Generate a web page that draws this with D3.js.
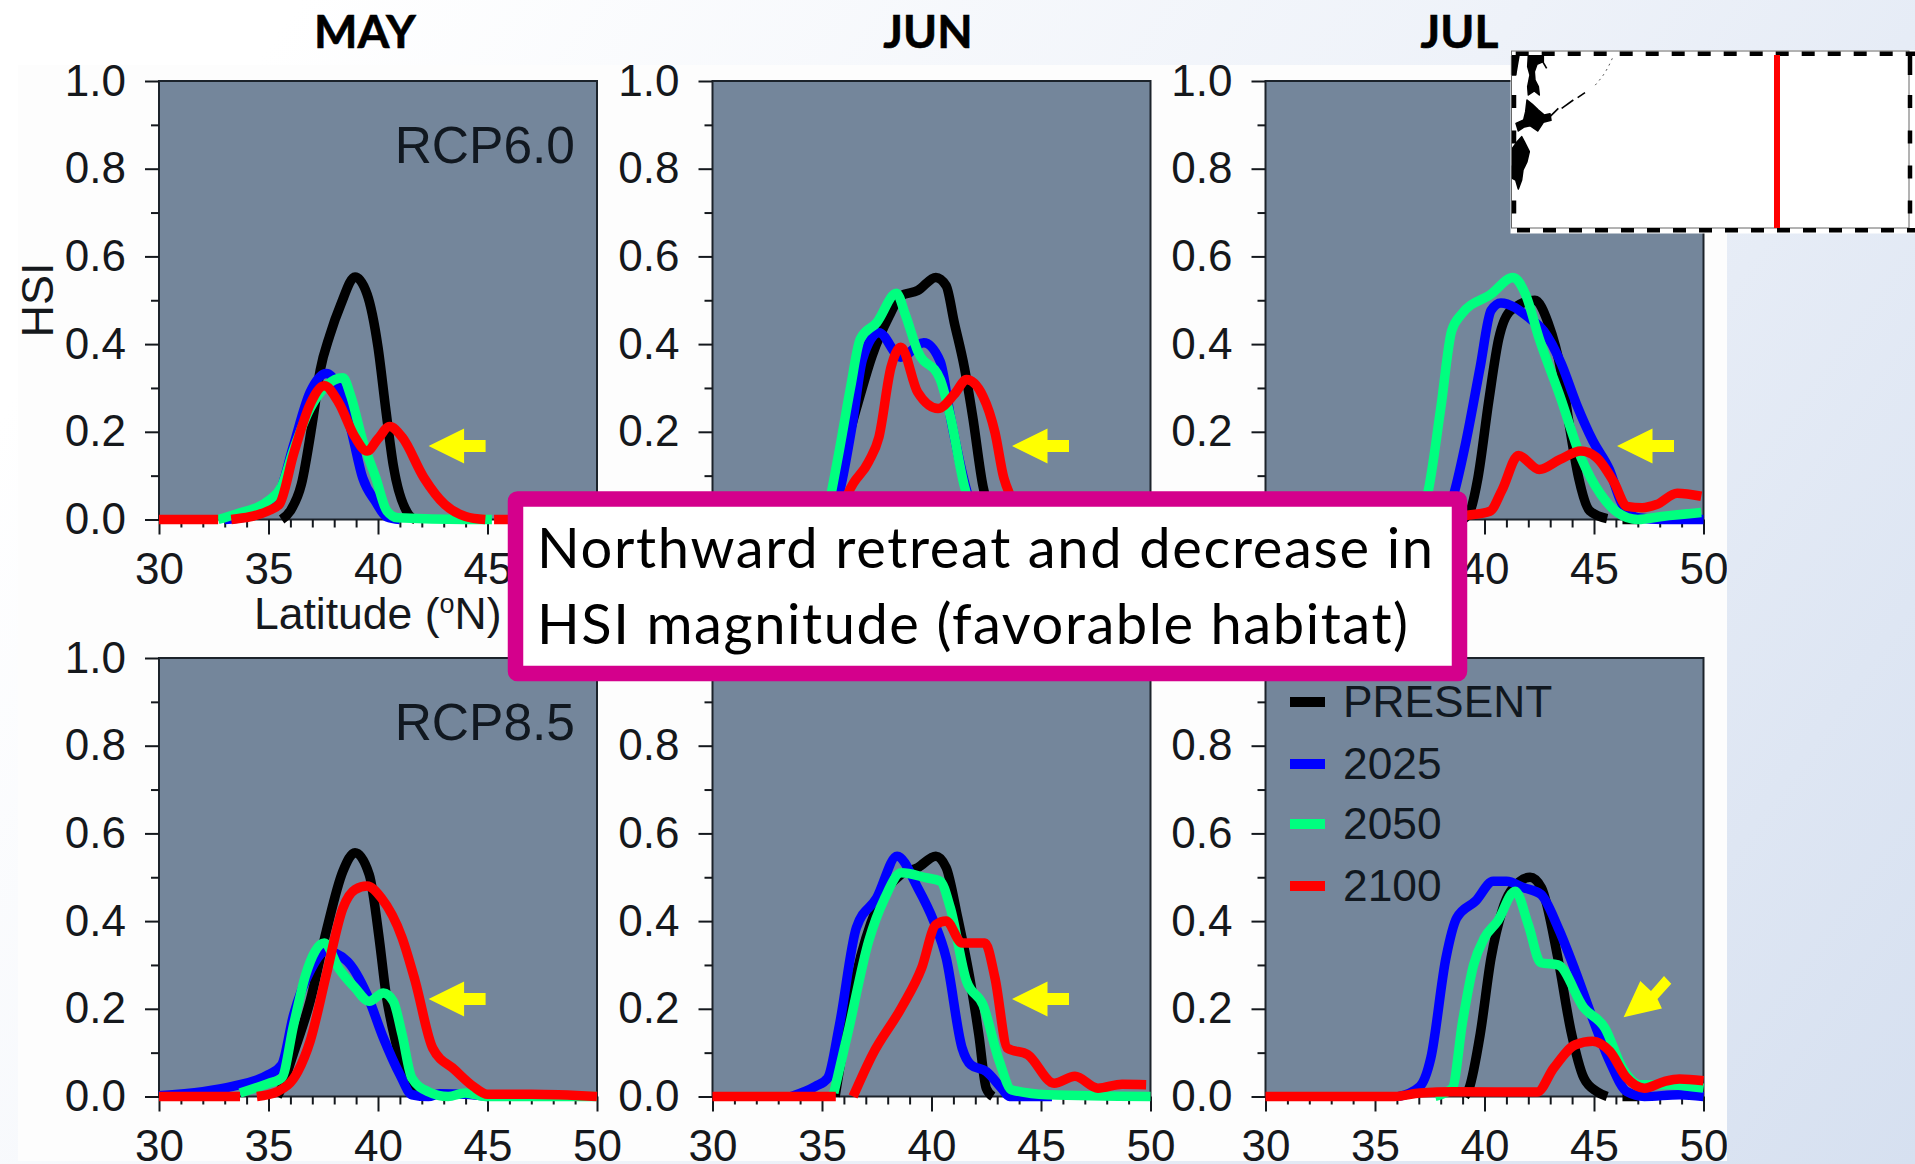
<!DOCTYPE html>
<html>
<head>
<meta charset="utf-8">
<title>HSI by latitude</title>
<script src="https://cdn.jsdelivr.net/npm/d3@7"></script>
<style>
  html, body { margin: 0; padding: 0; background: #fff; overflow: hidden; }
  svg { display: block; }
  .axis text { font-family: "Liberation Sans", sans-serif; font-size: 44px; fill: #15181c; }
  .axis line { stroke: #14181d; stroke-width: 2px; }
</style>
</head>
<body>
<div id="chart"></div>
<script>
// every curve is [latitude, HSI], null = break in the line
var may60Present = [[35.6,0],[36,.02],[36.5,.08],[37,.22],[37.36,.34],[37.8,.42],[38.3,.49],[38.95,.553],[39.5,.514],[40,.393],[40.35,.253],[40.7,.123],[41.4,.011],[41.7,0]];
var may60y2025 = [[33,0],[34,.006],[35,.03],[35.5,.06],[36.15,.17],[36.9,.29],[37.64,.333],[38.2,.3],[38.76,.207],[39.3,.095],[39.9,.04],[40.4,.006],[41,0]];
var may60y2050 = [[32.7,0],[33.5,.012],[35.03,.044],[35.6,.076],[36.15,.16],[36.9,.253],[37.64,.305],[38.4,.323],[38.76,.281],[39.3,.18],[39.9,.095],[40.4,.02],[40.9,.004],[44,0],[45.2,0]];
var may60y2100 = [[30,0],[32.7,0],[32.7,null],[33.3,0],[35,.02],[35.5,.035],[36.15,.15],[36.9,.263],[37.55,.305],[38.2,.267],[38.95,.188],[39.5,.156],[40,.184],[40.53,.212],[41.1,.188],[42.1,.095],[43.05,.034],[44,.007],[44.9,0],[44.9,null],[45.3,0],[50,0]];

var jun60Present = [[35.2,0],[35.54,.076],[36,.15],[36.57,.253],[37.3,.375],[38.06,.463],[38.6,.51],[39.37,.522],[40.2,.552],[40.67,.533],[41.04,.449],[41.5,.347],[41.88,.235],[42.35,.076],[42.9,0]];
var jun60y2025 = [[35.4,0],[35.82,.067],[36.38,.216],[36.85,.365],[37.6,.426],[38.6,.37],[39.65,.403],[40.4,.36],[40.86,.235],[41.55,.076],[42,0]];
var jun60y2050 = [[35.2,0],[35.45,.067],[35.8,.16],[36.3,.3],[36.75,.412],[37.5,.449],[38.4,.516],[38.8,.468],[39.37,.384],[40.4,.319],[40.86,.235],[41.5,.076],[42,0]];
var jun60y2100 = [[35.8,0],[36.2,.06],[37.13,.132],[37.6,.188],[38.15,.347],[38.6,.393],[39.37,.29],[40.3,.253],[41.05,.286],[41.6,.319],[42.35,.281],[42.9,.198],[43.3,.095],[43.55,.06],[43.9,.03],[44.5,0]];

var jul60Present = [[39,0],[39.35,.02],[39.7,.095],[40.2,.272],[40.65,.412],[41.2,.477],[42.3,.5],[42.9,.449],[43.5,.337],[43.9,.207],[44.3,.095],[44.8,.02],[45.6,.002],[45.6,null],[46.3,0],[47,0]];
var jul60y2025 = [[38.2,0],[38.6,.058],[39.16,.179],[39.8,.347],[40.3,.477],[40.75,.494],[42.06,.459],[42.7,.43],[43.5,.356],[44.2,.263],[44.95,.179],[45.7,.114],[46.25,.039],[47,.004],[48.1,0],[50,0]];
var jul60y2050 = [[37,0],[37.4,.058],[38,.253],[38.5,.43],[38.95,.468],[40.3,.514],[41.3,.552],[41.87,.514],[42.5,.412],[43.45,.281],[44.4,.142],[45.3,.058],[46.07,.016],[47,0],[48.1,.007],[49.9,.016]];
var jul60y2100 = [[38,0],[39.15,.009],[40.25,.019],[40.8,.067],[41.55,.146],[42.5,.114],[43.45,.137],[44.4,.156],[45.1,.142],[45.9,.086],[46.5,.03],[47.2,.027],[47.85,.034],[48.8,.06],[49.9,.053]];

var may85Present = [[35.4,0],[35.6,.02],[36.15,.10],[36.9,.217],[37.64,.377],[38.4,.514],[38.95,.556],[39.6,.506],[40.07,.354],[40.35,.24],[40.8,.126],[41.8,0]];
var may85y2025 = [[30,.002],[32,.011],[33.35,.023],[35,.05],[35.6,.072],[36.15,.187],[36.9,.286],[37.64,.331],[38.6,.308],[39.5,.232],[40.25,.133],[41,.05],[41.55,.004],[42.3,0],[42.8,.006],[44,.005],[45,0]];
var may85y2050 = [[33.7,.008],[35,.03],[35.6,.042],[36.15,.164],[36.7,.278],[37.55,.35],[38.2,.293],[38.95,.248],[39.6,.217],[40.25,.236],[40.7,.217],[41.1,.141],[41.55,.042],[42.3,.011],[43.2,0],[43.98,.008],[44.9,0],[50,0]];
var may85y2100 = [[30,0],[33.7,0],[33.7,null],[34.47,0],[35.4,.011],[36.34,.057],[36.9,.126],[37.64,.278],[38.4,.43],[38.95,.472],[39.5,.48],[40.15,.453],[41.1,.362],[41.7,.263],[42.5,.11],[43.5,.061],[44.35,.023],[45,.005],[47,.005],[50,0]];

var jun85Present = [[35.6,0],[36.57,.278],[37.5,.43],[38.6,.506],[39.37,.522],[40.2,.548],[40.67,.522],[41.2,.407],[41.8,.255],[42.16,.141],[42.5,.019],[42.8,0]];
var jun85y2025 = [[33.6,0],[34.7,.023],[35.26,.042],[35.8,.164],[36.57,.385],[37.5,.453],[38.43,.548],[39.37,.476],[40.1,.4],[40.67,.316],[41.4,.11],[41.8,.072],[42.5,.057],[43.2,.019],[43.56,0],[45.5,0]];
var jun85y2050 = [[35.54,.008],[36.2,.149],[37.13,.354],[37.87,.453],[38.62,.51],[39.74,.499],[40.4,.491],[40.86,.43],[41.6,.263],[42.35,.209],[43.1,.08],[43.66,.015],[45.3,.004],[50,0]];
var jun85y2100 = [[30,0],[35.63,0],[35.63,null],[36.42,0],[37.3,.095],[38.62,.202],[39.55,.293],[40.2,.392],[40.67,.4],[41.4,.35],[42.44,.35],[42.9,.27],[43.47,.11],[44.4,.095],[45.6,.03],[46.55,.046],[47.6,.019],[48.7,.028],[49.8,.027]];

var jul85Present = [[39.1,0],[39.3,.019],[39.8,.141],[40.3,.316],[40.8,.423],[41.6,.49],[42.08,.5],[42.6,.476],[43.35,.316],[43.95,.149],[44.54,.042],[45.13,.011],[45.6,0],[45.6,null],[46.3,0],[47,0]];
var jul85y2025 = [[36.07,0],[37.05,.023],[37.55,.088],[38.24,.316],[38.73,.407],[39.6,.446],[40.4,.491],[41,.491],[41.8,.476],[42.57,.461],[43.36,.385],[44.15,.286],[44.93,.179],[45.72,.08],[46.5,.011],[47.3,0],[48.9,.004],[50,0]];
var jul85y2050 = [[37.75,0],[38.53,.019],[39,.171],[39.5,.3],[40,.362],[40.6,.4],[41.4,.468],[42,.392],[42.57,.305],[43.36,.3],[44.54,.202],[45.5,.156],[46.3,.065],[47.1,.027],[48.3,.027],[50,.019]];
var jul85y2100 = [[30,0],[35.9,0],[37.05,.008],[38.6,.011],[42.4,.01],[43.16,.065],[44.15,.118],[44.93,.126],[45.72,.103],[46.5,.042],[47.3,.019],[48.2,.034],[48.9,.04],[50,.036]];

var months = ["MAY", "JUN", "JUL"];
var scenarios = ["RCP6.0", "RCP8.5"];
var seriesNames = ["PRESENT", "2025", "2050", "2100"];
var seriesColors = ["#000000", "#0000ff", "#00ff7f", "#ff0000"];
var latMajor = [30, 35, 40, 45, 50];
var latMinor = [31,32,33,34,36,37,38,39,41,42,43,44,46,47,48,49];
var hsiMajor = [0, 0.2, 0.4, 0.6, 0.8, 1];
var hsiMinor = [0.1, 0.3, 0.5, 0.7, 0.9];

var curves = [
  [[may60Present, may60y2025, may60y2050, may60y2100],
   [jun60Present, jun60y2025, jun60y2050, jun60y2100],
   [jul60Present, jul60y2025, jul60y2050, jul60y2100]],
  [[may85Present, may85y2025, may85y2050, may85y2100],
   [jun85Present, jun85y2025, jun85y2050, jun85y2100],
   [jul85Present, jul85y2025, jul85y2050, jul85y2100]]
];

var W = 1915, H = 1164;
var colX = [159, 712.5, 1265.5],
    rowY = [81, 658],
    titleX = [365, 928, 1459.5],
    panelW = 438,
    panelH = 438.5;

// callout outer edge, anything fully behind it is not drawn
var box = {x0: 508, x1: 1467, y0: 491, y1: 681};

var svg = d3.select("#chart").append("svg")
    .attr("width", W)
    .attr("height", H);

// slide background
var defs = svg.append("defs");
var grad = defs.append("linearGradient")
    .attr("id", "slideBg")
    .attr("gradientUnits", "userSpaceOnUse")
    .attr("x1", 300).attr("y1", 0)
    .attr("x2", 1915).attr("y2", 1164);
grad.append("stop").attr("offset", 0).attr("stop-color", "#ffffff");
grad.append("stop").attr("offset", 0.5).attr("stop-color", "#eef2f9");
grad.append("stop").attr("offset", 1).attr("stop-color", "#d6e0f0");

svg.append("rect").attr("width", W).attr("height", H).attr("fill", "url(#slideBg)");

// pasted figure is cut at its right edge, the "50" there loses a bit
defs.append("clipPath").attr("id", "figClip")
  .append("rect").attr("x", 18).attr("y", 65).attr("width", 1709).attr("height", 1099);

svg.append("rect")
    .attr("x", 18).attr("y", 65)
    .attr("width", 1709).attr("height", 1096)
    .attr("fill", "#fdfdfd");

var fig = svg.append("g").attr("clip-path", "url(#figClip)");

var x = d3.scaleLinear().domain([30, 50]).range([0, panelW]);
var y = d3.scaleLinear().domain([0, 1]).range([panelH, 0]);

var line = d3.line()
    .defined(function (d) { return d[1] !== null; })
    .x(function (d) { return x(d[0]); })
    .y(function (d) { return y(d[1]); })
    .curve(d3.curveMonotoneX);

function hiddenByBox(px, py, halfW) {
  return px - halfW > box.x0 && px + halfW < box.x1 && py > box.y0 && py < box.y1;
}

scenarios.forEach(function (scenario, r) {
  months.forEach(function (month, c) {
    var g = fig.append("g")
        .attr("transform", "translate(" + colX[c] + "," + rowY[r] + ")");

    g.append("rect")
        .attr("width", panelW)
        .attr("height", panelH)
        .attr("fill", "#74869b")
        .attr("stroke", "#1c232b")
        .attr("stroke-width", 2);

    // minor ticks first, then labelled ones
    g.append("g").attr("class", "axis")
        .attr("transform", "translate(0," + panelH + ")")
        .call(d3.axisBottom(x).tickValues(latMinor).tickSize(8).tickFormat(""))
        .select(".domain").remove();
    var xAxis = g.append("g").attr("class", "axis")
        .attr("transform", "translate(0," + panelH + ")")
        .call(d3.axisBottom(x).tickValues(latMajor).tickSize(15).tickPadding(18).tickFormat(d3.format("d")));
    xAxis.select(".domain").remove();
    xAxis.selectAll(".tick text").filter(function (d) {
      return hiddenByBox(colX[c] + x(d), rowY[r] + panelH + 50, 25);
    }).remove();

    g.append("g").attr("class", "axis")
        .call(d3.axisLeft(y).tickValues(hsiMinor).tickSize(8).tickFormat(""))
        .select(".domain").remove();
    var yAxis = g.append("g").attr("class", "axis")
        .call(d3.axisLeft(y).tickValues(hsiMajor).tickSize(14).tickPadding(19).tickFormat(d3.format(".1f")));
    yAxis.select(".domain").remove();
    yAxis.selectAll(".tick text").filter(function (d) {
      return hiddenByBox(colX[c] - 58, rowY[r] + y(d), 25) && rowY[r] + y(d) + 16 < box.y1;
    }).remove();

    curves[r][c].forEach(function (pts, i) {
      g.append("path")
          .attr("d", line(pts))
          .attr("fill", "none")
          .attr("stroke", seriesColors[i])
          .attr("stroke-width", 9.5)
          .attr("stroke-linejoin", "round");
    });

    if (c == 0) {
      g.append("text")
          .attr("x", 416)
          .attr("y", 82)
          .attr("text-anchor", "end")
          .style("font-family", "Liberation Sans")
          .style("font-size", "51.5px")
          .style("fill", "#111820")
          .text(scenario);
    }
  });
});

// axis titles
fig.append("text")
    .attr("transform", "translate(53,300) rotate(-90)")
    .attr("text-anchor", "middle")
    .style("font-family", "Liberation Sans")
    .style("font-size", "45px")
    .style("fill", "#15181c")
    .text("HSI");

var latLabel = fig.append("text")
    .attr("x", 254)
    .attr("y", 629)
    .style("font-family", "Liberation Sans")
    .style("font-size", "44.5px")
    .style("fill", "#15181c");
latLabel.append("tspan").text("Latitude (");
latLabel.append("tspan").attr("dy", -16).style("font-size", "27px").text("o");
latLabel.append("tspan").attr("dy", 16).text("N)");

// legend in the lower JUL panel
var legendY = [702, 764, 824, 886];
seriesNames.forEach(function (name, i) {
  fig.append("line")
      .attr("x1", 1290).attr("x2", 1325)
      .attr("y1", legendY[i]).attr("y2", legendY[i])
      .attr("stroke", seriesColors[i])
      .attr("stroke-width", 10);
  fig.append("text")
      .attr("x", 1343)
      .attr("y", legendY[i] + 15)
      .style("font-family", "Liberation Sans")
      .style("font-size", "44.3px")
      .style("fill", "#111820")
      .text(name);
});

// yellow arrows
var arrowTips = [[428.6,446],[1012,446],[1617,446],[428.6,999],[1012,999]];
arrowTips.forEach(function (t) {
  var a = t[0], b = t[1];
  svg.append("polygon")
      .attr("points", [[a,b],[a+35.5,b-17.5],[a+35.5,b-6],[a+57,b-6],[a+57,b+6],[a+35.5,b+6],[a+35.5,b+17.5]].join(" "))
      .attr("fill", "#ffff00");
});
svg.append("polygon")
    .attr("points", "1623.6,1017.3 1640.3,981.1 1651,991 1664,976 1671.3,983.8 1657.5,999 1661.9,1008.6")
    .attr("fill", "#ffff00");

// month titles
months.forEach(function (month, c) {
  svg.append("text")
      .attr("x", titleX[c])
      .attr("y", 48)
      .attr("text-anchor", "middle")
      .style("font-family", "Lato")
      .style("font-weight", 700)
      .style("font-size", "46px")
      .style("fill", "#000")
      .style("stroke", "#000")
      .style("stroke-width", 0.6)
      .text(month);
});

// callout box
svg.append("rect")
    .attr("x", 515.5).attr("y", 499)
    .attr("width", 944).attr("height", 174.5)
    .attr("rx", 2)
    .attr("fill", "#fff")
    .attr("stroke", "#d4008c")
    .attr("stroke-width", 15.5)
    .attr("stroke-linejoin", "round");

svg.append("text")
    .attr("x", 537).attr("y", 568)
    .attr("textLength", 896)
    .style("font-family", "Lato")
    .style("font-size", "56px")
    .style("fill", "#000")
    .text("Northward retreat and decrease in");
svg.append("text")
    .attr("x", 537).attr("y", 644)
    .attr("textLength", 871)
    .style("font-family", "Lato")
    .style("font-size", "56px")
    .style("fill", "#000")
    .text("HSI magnitude (favorable habitat)");

// locator map, top right
var map = svg.append("g");
map.append("rect")
    .attr("x", 1510.5).attr("y", 50)
    .attr("width", 404.5).attr("height", 183.5)
    .attr("fill", "#fff");

// map points are in a 3x frame anchored at the map corner
function mapPts(pts) {
  return pts.map(function (p) { return [1505 + p[0] / 3, 45 + p[1] / 3]; });
}
var sakhalin = [[70,32],[115,32],[115,50],[96,58],[88,80],[90,105],[100,125],[103,150],[88,138],[70,150],[68,125],[75,90],[68,65]];
var hokkaido = [[66,165],[82,178],[100,195],[118,210],[135,206],[138,226],[115,232],[98,258],[75,242],[58,246],[40,258],[33,235],[56,225],[62,200]];
var honshu = [[35,292],[50,275],[58,290],[73,320],[66,350],[54,375],[50,405],[40,432],[32,405],[22,400],[22,310]];
var mainland = [[20,32],[42,32],[32,90],[20,90]];
[sakhalin, hokkaido, honshu, mainland].forEach(function (pts) {
  map.append("polygon")
      .attr("points", mapPts(pts).join(" "))
      .attr("fill", "#000")
      .attr("stroke", "#000")
      .attr("stroke-width", 1.5)
      .attr("stroke-linejoin", "round");
});
var islands = [
  [[135,215],[160,190]],
  [[170,190],[205,165]],
  [[218,158],[240,143]],
  [[112,48],[125,70]]
];
islands.forEach(function (pts) {
  map.append("path")
      .attr("d", d3.line()(mapPts(pts)))
      .attr("stroke", "#000").attr("stroke-width", 1.6).attr("fill", "none");
});
map.append("path")
    .attr("d", d3.line().curve(d3.curveMonotoneY)(mapPts([[322,40],[295,90],[265,127]])))
    .attr("stroke", "#555").attr("stroke-width", 1).attr("stroke-dasharray", "2 4").attr("fill", "none");

// thin frame
map.append("rect")
    .attr("x", 1511.5).attr("y", 51)
    .attr("width", 397.5).attr("height", 177)
    .attr("fill", "none").attr("stroke", "#666").attr("stroke-width", 1);

// dashed border
function dashed(x1, y1, x2, y2, dash) {
  map.append("line")
      .attr("x1", x1).attr("y1", y1).attr("x2", x2).attr("y2", y2)
      .attr("stroke", "#000").attr("stroke-width", 4.5)
      .attr("stroke-dasharray", dash);
}
dashed(1515.7, 53.7, 1915, 53.7, "13 13");
dashed(1517, 230.3, 1915, 230.3, "13 13");
dashed(1514, 56, 1514, 228, "19 20 13 22.5 13 22 13 22 13 22");
dashed(1910, 56, 1910, 228, "19 20 13 22.5 13 22 13 22 13 22");

map.append("line")
    .attr("x1", 1777).attr("x2", 1777)
    .attr("y1", 55).attr("y2", 228)
    .attr("stroke", "#ff0000").attr("stroke-width", 6);
</script>
</body>
</html>
